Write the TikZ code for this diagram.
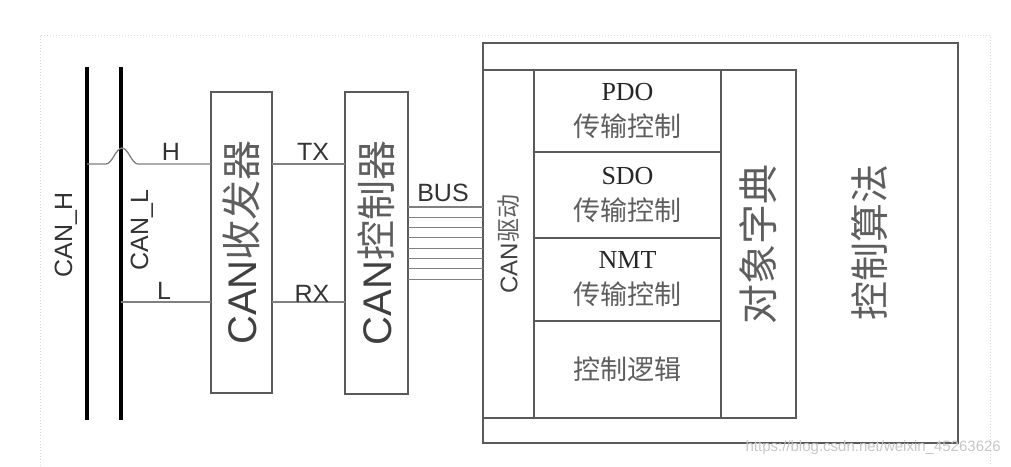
\documentclass[tikz,border=0pt]{standalone}
\usepackage{fontspec}
\setmainfont{Liberation Serif}
\setsansfont{Liberation Sans}
\newfontfamily\cjk{Noto Sans CJK SC}
\usetikzlibrary{positioning,calc}
\definecolor{ink}{HTML}{5A5A5A}
\definecolor{txt}{HTML}{404040}
\definecolor{cjkgray}{HTML}{5E5E5E}
\definecolor{wiregray}{HTML}{808080}
\definecolor{framegray}{HTML}{D6D6D6}
\tikzset{
  blk/.style={draw=ink,line width=1.6pt,inner sep=0pt,outer sep=0pt,text=txt},
  wire/.style={draw=wiregray,line width=1.3pt},
  rail/.style={line width=4.5pt,black},
  lbl/.style={font=\sffamily\fontsize{25}{25}\selectfont,text=black!80,inner sep=0pt},
  modbox/.style={blk,minimum width=187pt,align=center,text=black!85,
    font=\fontsize{26}{36}\selectfont},
}
\newcommand{\latn}[1]{{\sffamily #1}}
\newcommand{\zh}[1]{{\cjk\color{cjkgray}#1}}
\begin{document}
\begin{tikzpicture}[x=1pt,y=-1pt]
  \useasboundingbox (0,0) rectangle (1011,466);
  \draw[framegray,dotted,line width=1pt] (40,466) -- (40,35) -- (990,35) -- (990,466);
  % CAN bus rails
  \coordinate (hTop) at (87,67); \coordinate (hBot) at (87,420);
  \coordinate (lTop) at (121,67); \coordinate (lBot) at (121,420);
  \draw[rail] (hTop) -- (hBot);
  \draw[rail] (lTop) -- (lBot);
  \node[lbl] (canh) at (66,235) {\rotatebox{90}{CAN\_H}};
  \node[lbl] (canl) at (142,230) {\rotatebox{90}{CAN\_L}};
  % transceiver and controller
  \node[blk,minimum width=61pt,minimum height=301pt,font=\fontsize{40}{40}\selectfont] (trx) at (241.5,242.5)
    {\rotatebox{90}{\latn{CAN}\zh{收发器}}};
  \node[blk,minimum width=63pt,minimum height=302pt,font=\fontsize{40}{40}\selectfont] (ctrl) at (376.5,243)
    {\rotatebox{90}{\latn{CAN}\zh{控制器}}};
  \coordinate (txY) at (0,164); \coordinate (rxY) at (0,302);
  \draw[wire] (hTop |- txY) -- ++(19,0) .. controls +(6,0) and +(-6,0) .. ++(16,-16)
    .. controls +(6,0) and +(-6,0) .. ++(16,16) -- (trx.west |- txY);
  \draw[wire] (lTop |- rxY) -- (trx.west |- rxY);
  \draw[wire] (trx.east |- txY) -- (ctrl.west |- txY);
  \draw[wire] (trx.east |- rxY) -- (ctrl.west |- rxY);
  \node[lbl] (hlbl) at (171,152) {H};
  \node[lbl] (llbl) at (164,291) {L};
  \node[lbl] (txlbl) at (313,152) {TX};
  \node[lbl] (rxlbl) at (312,294) {RX};
  % control algorithm and inner stack
  \node[blk,line width=2.2pt,minimum width=475pt,minimum height=400pt] (algo) at (720.5,243) {};
  \node[font=\fontsize{39}{39}\selectfont] (algolbl) at (870,242) {\rotatebox{90}{\zh{控制算法}}};
  \node[blk,minimum width=51pt,minimum height=348pt,font=\fontsize{24}{24}\selectfont] (drv) at (508.5,244)
    {\rotatebox{90}{\latn{CAN}\zh{驱动}}};
  \node[modbox,minimum height=82pt] (pdo) at (627.5,111) {PDO\\\zh{\fontsize{27}{36}\selectfont 传输控制}};
  \node[modbox,minimum height=86pt,below=0pt of pdo] (sdo) {SDO\\\zh{\fontsize{27}{36}\selectfont 传输控制}};
  \node[modbox,minimum height=83pt,below=0pt of sdo] (nmt) {NMT\\\zh{\fontsize{27}{36}\selectfont 传输控制}};
  \node[modbox,minimum height=97pt,below=0pt of nmt,font=\fontsize{27}{36}\selectfont] (logic) {\zh{控制逻辑}};
  \node[blk,minimum width=75pt,minimum height=348pt,font=\fontsize{40}{40}\selectfont] (dict) at (758.5,244)
    {\rotatebox{90}{\zh{对象字典}}};
  % parallel bus
  \foreach \i in {0,...,7}{
    \path (0,{207+10.3*\i}) coordinate (b\i);
    \draw[wire,line width=1.1pt] (ctrl.east |- b\i) -- (drv.west |- b\i);
  }
  \node[lbl] (buslbl) at (443,193) {BUS};
  \node[anchor=east,inner sep=0pt,text=gray!45,font=\sffamily\fontsize{15}{15}\selectfont] (mark) at (1001,448)
    {https://blog.csdn.net/weixin\_45263626};
\end{tikzpicture}
\end{document}
